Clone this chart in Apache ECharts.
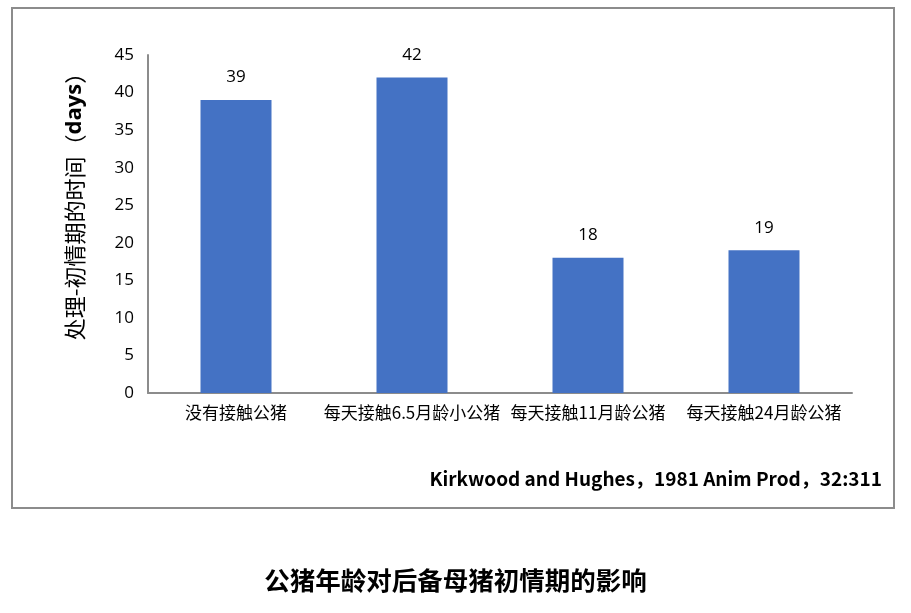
<!DOCTYPE html>
<html><head><meta charset="utf-8">
<script src="https://cdn.jsdelivr.net/npm/echarts@6/dist/echarts.min.js"></script>
<style>html,body{margin:0;padding:0;background:#fff}#c{width:911px;height:613px}</style>
</head><body><div id="c"></div>
<script>
const categories = ['没有接触公猪', '每天接触6.5月龄小公猪', '每天接触11月龄公猪', '每天接触24月龄公猪'];
const values = [39, 42, 18, 19];
const yTicks = [0, 5, 10, 15, 20, 25, 30, 35, 40, 45];
const yNameMain = '处理-初情期的时间（';
const yNameUnit = 'days';
const yNameEnd = '）';
const citation = 'Kirkwood and Hughes，1981 Anim Prod，32:311';
const title = '公猪年龄对后备母猪初情期的影响';

const chart = echarts.init(document.getElementById('c'), null, {renderer: 'canvas'});
chart.setOption({
  animation: false,
  backgroundColor: '#fff',
  grid: {left: 148, top: 55, width: 704, height: 338, containLabel: false},
  xAxis: {
    type: 'category', data: categories,
    axisLine: {lineStyle: {color: '#8c8c8c', width: 2}},
    axisTick: {show: false},
    axisLabel: {color: '#000', fontSize: 17, margin: 11, fontFamily: '"Noto Sans CJK SC", sans-serif', interval: 0}
  },
  yAxis: {
    type: 'value', min: yTicks[0], max: yTicks[yTicks.length - 1], interval: 5,
    axisLine: {show: true, lineStyle: {color: '#8c8c8c', width: 2}},
    axisTick: {show: false},
    splitLine: {show: false},
    axisLabel: {color: '#000', fontSize: 17, margin: 14, fontFamily: '"Open Sans", "Liberation Sans", sans-serif'}
  },
  series: [{
    type: 'bar', data: values, barWidth: 71,
    itemStyle: {color: '#4472C4'},
    label: {show: true, position: 'top', distance: 14, color: '#000', fontSize: 17, fontFamily: '"Open Sans", "Liberation Sans", sans-serif'}
  }],
  graphic: [
    {type: 'rect', shape: {x: 12, y: 8, width: 882, height: 500}, style: {fill: 'none', stroke: '#8c8c8c', lineWidth: 2}, z: 0},
    {type: 'text', x: 75, y: 201, rotation: Math.PI / 2,
      style: {
        text: yNameMain + '{b|' + yNameUnit + '}' + yNameEnd,
        align: 'center', verticalAlign: 'middle',
        fill: '#000', font: '22px "Noto Sans CJK SC", sans-serif',
        rich: {b: {fontWeight: 'bold', fontSize: 22, fontFamily: '"Open Sans", sans-serif'}}
      }},
    {type: 'text', right: 29, top: 469, style: {text: citation, fill: '#000', font: 'bold 19px "Noto Sans CJK SC", "Open Sans", sans-serif'}},
    {type: 'text', left: 'center', top: 568, style: {text: title, fill: '#000', font: 'bold 25.5px "Noto Sans CJK SC", sans-serif'}}
  ]
});
</script></body></html>
